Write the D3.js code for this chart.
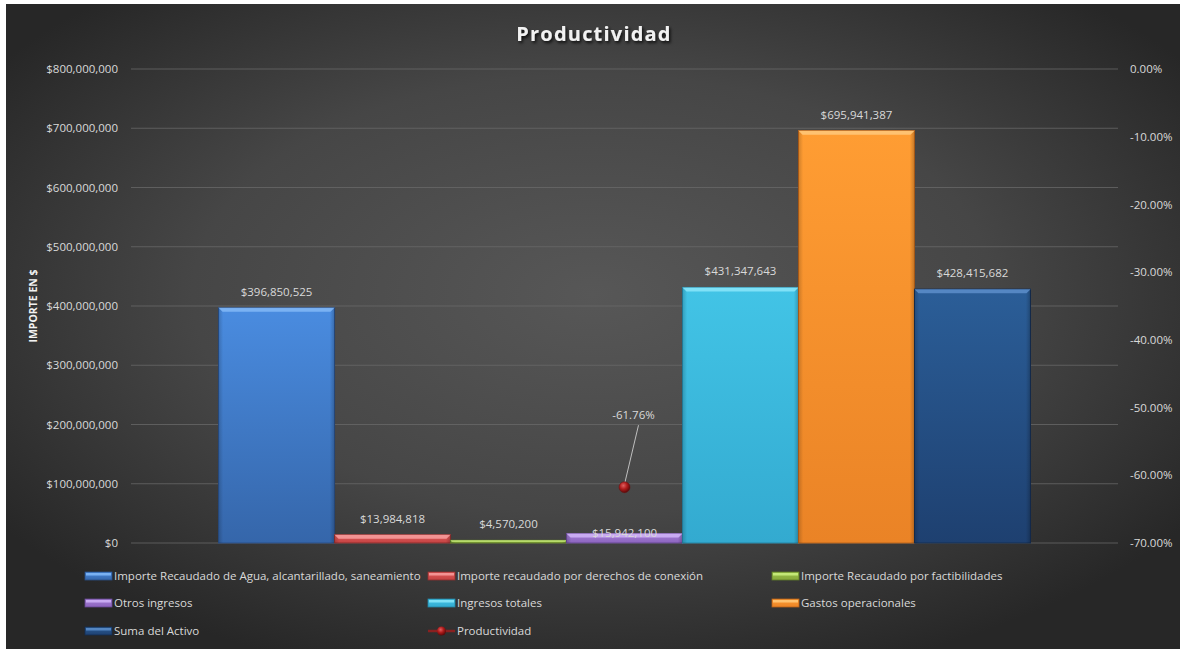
<!DOCTYPE html>
<html>
<head>
<meta charset="utf-8">
<script src="https://cdn.jsdelivr.net/npm/d3@7"></script>
<style>
  html, body { margin: 0; padding: 0; background: #ffffff; }
  svg { display: block; }
  text { font-family: "Open Sans", "Noto Sans", sans-serif; }
</style>
</head>
<body>
<svg id="chart" width="1181" height="649"></svg>
<script>
// ---------- DATA ----------
const seriesNames = [
  "Importe Recaudado de Agua, alcantarillado, saneamiento",
  "Importe recaudado por derechos de conexión",
  "Importe Recaudado por factibilidades",
  "Otros ingresos",
  "Ingresos totales",
  "Gastos operacionales",
  "Suma del Activo"
];
const seriesValues = [396850525, 13984818, 4570200, 15942100, 431347643, 695941387, 428415682];
const lineName = "Productividad";
const lineValues = [-0.6176];
const categories = [""];
const leftTicks = [0, 100000000, 200000000, 300000000, 400000000, 500000000, 600000000, 700000000, 800000000];
const rightTicks = [0, -0.1, -0.2, -0.3, -0.4, -0.5, -0.6, -0.7];
const chartTitle = "Productividad";
const yAxisTitle = "IMPORTE EN $";

// ---------- STYLE ----------
const barColors = [
  {top: "#4a8ce0", bot: "#3566aa", hi: "#7fb6f5", edge: "#2a4f86"},
  {top: "#e65c5c", bot: "#c24242", hi: "#f59a9a", edge: "#8e2f2f"},
  {top: "#9cc24c", bot: "#86a83a", hi: "#c8ec7c", edge: "#5e7a26"},
  {top: "#a57fd6", bot: "#8c64be", hi: "#cdb0f5", edge: "#664892"},
  {top: "#42c4e6", bot: "#33aad0", hi: "#86e4f8", edge: "#2584a4"},
  {top: "#ff9d33", bot: "#ea8326", hi: "#ffc778", edge: "#b8621a"},
  {top: "#2b5e98", bot: "#1e4070", hi: "#5a8cc8", edge: "#152e52"}
];

const W = 1181, H = 649;
const plot = {left: 131, right: 1118, top: 69, bottom: 543};

const svg = d3.select("#chart");
const defs = svg.append("defs");

// background radial gradient
const bg = defs.append("radialGradient").attr("id", "bgGrad")
  .attr("cx", "50%").attr("cy", "45%").attr("r", "62%");
bg.append("stop").attr("offset", "0%").attr("stop-color", "#575757");
bg.append("stop").attr("offset", "55%").attr("stop-color", "#464646");
bg.append("stop").attr("offset", "100%").attr("stop-color", "#272727");

svg.append("rect").attr("x", 6).attr("y", 4).attr("width", 1174).attr("height", H - 4)
  .attr("fill", "url(#bgGrad)");

// title shadow filter
const f = defs.append("filter").attr("id", "shadow").attr("x", "-10%").attr("y", "-30%").attr("width", "120%").attr("height", "160%");
f.append("feDropShadow").attr("dx", 1.5).attr("dy", 2).attr("stdDeviation", 1.5).attr("flood-color", "#000").attr("flood-opacity", 0.8);

// scales
const x0 = d3.scaleBand().domain(categories).range([plot.left, plot.right]).paddingInner(0).paddingOuter(0.1078);
const x1 = d3.scaleBand().domain(d3.range(seriesNames.length)).range([0, x0.bandwidth()]).padding(0);
const yL = d3.scaleLinear().domain([0, 800000000]).range([plot.bottom, plot.top]);
const yR = d3.scaleLinear().domain([-0.7, 0]).range([plot.bottom, plot.top]);

// gridlines
svg.append("g").selectAll("line").data(leftTicks).join("line")
  .attr("x1", plot.left).attr("x2", plot.right)
  .attr("y1", d => yL(d)).attr("y2", d => yL(d))
  .attr("stroke", "#6a6a6a").attr("stroke-width", 1).attr("opacity", 0.75);

// left axis
const fmtMoney = d => "$" + d3.format(",")(d);
const leftAxis = svg.append("g").attr("transform", `translate(${plot.left - 13},0)`)
  .call(d3.axisLeft(yL).tickValues(leftTicks).tickFormat(fmtMoney).tickSize(0).tickPadding(0));
leftAxis.select(".domain").remove();
leftAxis.selectAll("text").attr("fill", "#d9d9d9").style("font-size", "11.5px")
  .style("font-family", "'Open Sans', sans-serif");

// right axis
const fmtPct = d => (d * 100).toFixed(2) + "%";
const rightAxis = svg.append("g").attr("transform", `translate(${plot.right + 12},0)`)
  .call(d3.axisRight(yR).tickValues(rightTicks).tickFormat(fmtPct).tickSize(0).tickPadding(0));
rightAxis.select(".domain").remove();
rightAxis.selectAll("text").attr("fill", "#d9d9d9").style("font-size", "11.5px")
  .style("font-family", "'Open Sans', sans-serif");

// bar gradients
barColors.forEach((c, i) => {
  const g = defs.append("linearGradient").attr("id", "bar" + i).attr("x1", 0).attr("y1", 0).attr("x2", 0).attr("y2", 1);
  g.append("stop").attr("offset", "0%").attr("stop-color", c.top);
  g.append("stop").attr("offset", "100%").attr("stop-color", c.bot);
  const h = defs.append("linearGradient").attr("id", "barH" + i).attr("x1", 0).attr("y1", 0).attr("x2", 1).attr("y2", 0);
  h.append("stop").attr("offset", "0%").attr("stop-color", "#000").attr("stop-opacity", 0.18);
  h.append("stop").attr("offset", "4%").attr("stop-color", "#000").attr("stop-opacity", 0);
  h.append("stop").attr("offset", "96%").attr("stop-color", "#000").attr("stop-opacity", 0);
  h.append("stop").attr("offset", "100%").attr("stop-color", "#000").attr("stop-opacity", 0.22);
});

const barData = seriesValues.map((v, i) => ({i, v, name: seriesNames[i]}));
const gBars = svg.append("g").attr("transform", `translate(${x0(categories[0])},0)`);
const bars = gBars.selectAll("g.bar").data(barData).join("g").attr("class", "bar");
bars.append("rect")
  .attr("x", d => x1(d.i)).attr("width", x1.bandwidth())
  .attr("y", d => yL(d.v)).attr("height", d => yL(0) - yL(d.v))
  .attr("fill", d => `url(#bar${d.i})`)
  .attr("stroke", d => barColors[d.i].edge).attr("stroke-width", 1);
bars.append("rect")
  .attr("x", d => x1(d.i)).attr("width", x1.bandwidth())
  .attr("y", d => yL(d.v)).attr("height", d => yL(0) - yL(d.v))
  .attr("fill", d => `url(#barH${d.i})`);
// top bevel
bars.append("path")
  .attr("d", d => {
    const x = x1(d.i), w = x1.bandwidth(), y = yL(d.v);
    const b = Math.min(4, (yL(0) - y) / 2);
    return `M${x},${y}L${x + w},${y}L${x + w - b},${y + b}L${x + b},${y + b}Z`;
  })
  .attr("fill", d => barColors[d.i].hi).attr("opacity", 0.9);

// bar labels
const labelDy = [-12, -12, -12, 3, -12, -12, -12];
bars.append("text")
  .attr("x", d => x1(d.i) + x1.bandwidth() / 2)
  .attr("y", d => yL(d.v) + labelDy[d.i])
  .attr("text-anchor", "middle")
  .attr("fill", "#d9d9d9").style("font-size", "11.5px")
  .text(d => fmtMoney(d.v));

// line series (single point)
const ptGrad = defs.append("radialGradient").attr("id", "ptGrad").attr("cx", "40%").attr("cy", "35%").attr("r", "65%");
ptGrad.append("stop").attr("offset", "0%").attr("stop-color", "#e06060");
ptGrad.append("stop").attr("offset", "50%").attr("stop-color", "#b01c1c");
ptGrad.append("stop").attr("offset", "100%").attr("stop-color", "#5a0808");

const lineData = lineValues.map((v, i) => ({v, c: categories[i]}));
const gLine = svg.append("g");
const px = d => x0(d.c) + x0.bandwidth() / 2;
gLine.selectAll("line.leader").data(lineData).join("line").attr("class", "leader")
  .attr("x1", d => px(d) + 14).attr("y1", d => yR(d.v) - 62)
  .attr("x2", d => px(d)).attr("y2", d => yR(d.v) - 3)
  .attr("stroke", "#bfbfbf").attr("stroke-width", 1);
gLine.selectAll("circle").data(lineData).join("circle")
  .attr("cx", px).attr("cy", d => yR(d.v)).attr("r", 5.5)
  .attr("fill", "url(#ptGrad)").attr("stroke", "#6a1010").attr("stroke-width", 0.5);
gLine.selectAll("text").data(lineData).join("text")
  .attr("x", d => px(d) + 9).attr("y", d => yR(d.v) - 68)
  .attr("text-anchor", "middle").attr("fill", "#d9d9d9").style("font-size", "11.5px")
  .text(d => fmtPct(d.v));

// title
svg.append("text").attr("x", 594).attr("y", 41).attr("text-anchor", "middle")
  .attr("fill", "#f2f2f2").style("font-size", "20px").style("font-weight", "bold")
  .style("letter-spacing", "1.2px").attr("filter", "url(#shadow)")
  .text(chartTitle);

// y-axis title
svg.append("text").attr("transform", "translate(37,306) rotate(-90)")
  .attr("text-anchor", "middle").attr("fill", "#f2f2f2")
  .style("font-size", "10.5px").style("font-weight", "bold")
  .text(yAxisTitle);

// legend
const legendItems = seriesNames.map((n, i) => ({name: n, type: "bar", i}))
  .concat([{name: lineName, type: "line"}]);
const colX = [85, 428, 772], rowY = [576, 603, 631];
const gLeg = svg.append("g");
legendItems.forEach((d, k) => {
  const gx = colX[k % 3], gy = rowY[Math.floor(k / 3)];
  const g = gLeg.append("g").attr("transform", `translate(${gx},${gy})`);
  if (d.type === "bar") {
    g.append("rect").attr("x", 0).attr("y", -4).attr("width", 27).attr("height", 8)
      .attr("fill", `url(#bar${d.i})`).attr("stroke", barColors[d.i].edge).attr("stroke-width", 0.8);
    g.append("rect").attr("x", 1).attr("y", -3).attr("width", 25).attr("height", 2.5)
      .attr("fill", barColors[d.i].hi).attr("opacity", 0.9);
  } else {
    g.append("line").attr("x1", 0).attr("x2", 27).attr("y1", 0).attr("y2", 0)
      .attr("stroke", "#8a2020").attr("stroke-width", 2.5);
    g.append("circle").attr("cx", 13.5).attr("cy", 0).attr("r", 4.5).attr("fill", "url(#ptGrad)");
  }
  g.append("text").attr("x", 29).attr("y", 4).attr("fill", "#d9d9d9")
    .style("font-size", "11.5px").text(d.name);
});
</script>
</body>
</html>
